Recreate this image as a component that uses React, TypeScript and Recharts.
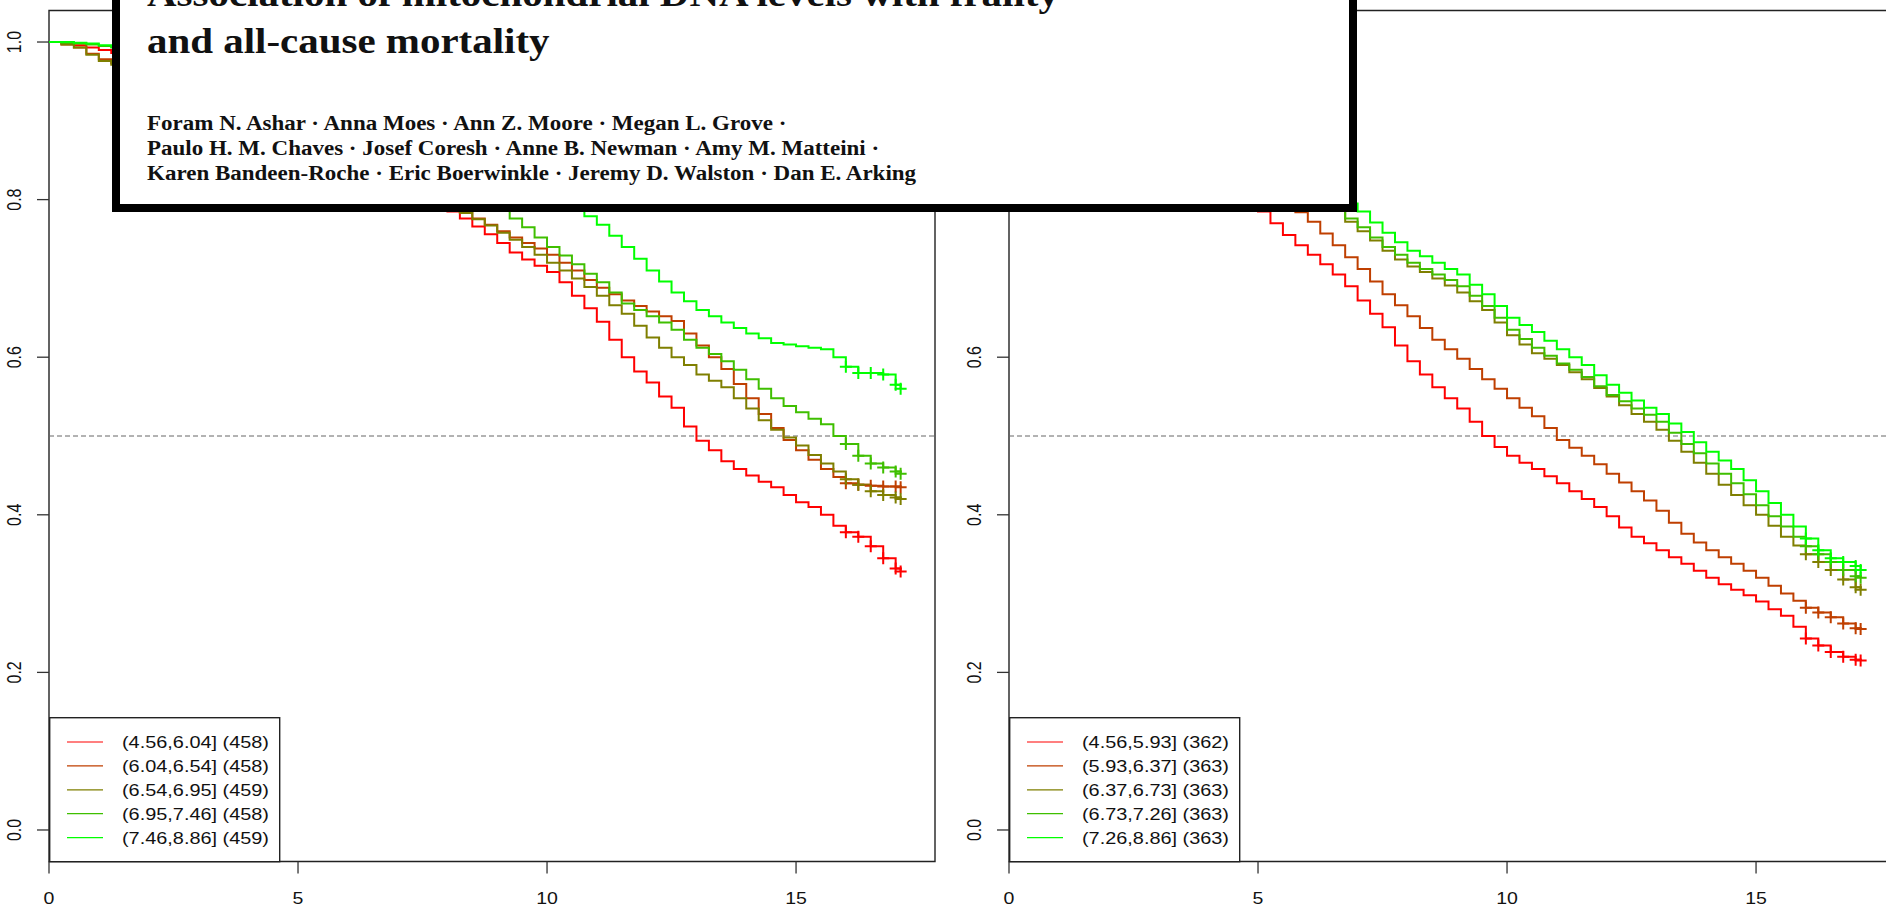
import React from "react";
import { LineChart, Line, XAxis, YAxis, ReferenceLine, ReferenceArea } from "recharts";

const TIMES = [
  0, 0.25, 0.5, 0.75, 1, 1.25, 1.5, 1.75, 2, 2.25, 2.5, 2.75, 3, 3.25, 3.5, 3.75,
  4, 4.25, 4.5, 4.75, 5, 5.25, 5.5, 5.75, 6, 6.25, 6.5, 6.75, 7, 7.25, 7.5, 7.75,
  8, 8.25, 8.5, 8.75, 9, 9.25, 9.5, 9.75, 10, 10.25, 10.5, 10.75, 11, 11.25, 11.5, 11.75,
  12, 12.25, 12.5, 12.75, 13, 13.25, 13.5, 13.75, 14, 14.25, 14.5, 14.75, 15, 15.25, 15.5, 15.75,
  16, 16.25, 16.5, 16.75, 17, 17.1,
];

// Left panel
const L_RED = [
  1.0, .998, .996, .993, .99, .986, .982, .977, .972, .967, .962, .957, .952, .946, .94, .934,
  .927, .92, .913, .906, .898, .89, .882, .874, .866, .857, .848, .838, .828, .818, .808, .796,
  .785, .776, .766, .756, .745, .733, .724, .716, .708, .695, .678, .662, .645, .622, .6, .582,
  .568, .55, .536, .512, .494, .482, .468, .458, .45, .442, .435, .425, .416, .41, .4, .386,
  .378, .372, .36, .345, .332, .328,
];
const L_BROWN = [
  1.0, .997, .993, .985, .978, .973, .968, .963, .958, .953, .948, .943, .937, .931, .925, .918,
  .912, .905, .898, .891, .884, .876, .869, .861, .854, .846, .838, .83, .822, .814, .806, .798,
  .79, .784, .776, .768, .76, .752, .745, .738, .73, .72, .71, .698, .688, .68, .672, .665,
  .658, .652, .646, .63, .615, .6, .585, .566, .548, .528, .51, .495, .482, .47, .458, .448,
  .44, .438, .437, .436, .436, .435,
];
const L_OLIVE = [
  1.0, .997, .993, .984, .976, .971, .966, .961, .956, .951, .946, .94, .935, .929, .923, .917,
  .91, .903, .896, .889, .882, .874, .867, .86, .852, .844, .836, .828, .82, .812, .804, .797,
  .79, .783, .775, .767, .758, .749, .74, .73, .72, .71, .7, .689, .678, .666, .655, .64,
  .625, .612, .6, .59, .578, .57, .562, .548, .535, .52, .508, .498, .488, .476, .465, .455,
  .445, .438, .43, .425, .422, .42,
];
const L_GREEN = [
  1.0, .999, .998, .997, .995, .993, .99, .987, .984, .98, .976, .972, .968, .963, .958, .953,
  .948, .942, .936, .93, .923, .917, .91, .903, .896, .889, .882, .875, .867, .859, .851, .842,
  .832, .821, .81, .799, .788, .776, .765, .752, .74, .729, .718, .706, .695, .682, .668, .66,
  .652, .644, .635, .622, .612, .604, .595, .584, .572, .56, .548, .538, .53, .522, .515, .5,
  .49, .475, .465, .46, .455, .452,
];
const L_LIME = [
  1.0, 1.0, .999, .998, .996, .994, .992, .99, .988, .986, .983, .98, .977, .974, .97, .967,
  .963, .959, .955, .951, .946, .942, .937, .932, .927, .922, .917, .912, .906, .9, .895, .889,
  .883, .877, .87, .863, .855, .847, .838, .827, .815, .802, .79, .779, .768, .754, .74, .725,
  .71, .696, .682, .671, .66, .652, .644, .637, .63, .624, .618, .616, .614, .612, .61, .6,
  .588, .58, .58, .578, .565, .56,
];

// Right panel
const R_RED = [
  1.0, .998, .996, .992, .988, .983, .978, .972, .966, .959, .952, .944, .935, .924, .912, .899,
  .885, .864, .84, .812, .785, .77, .755, .742, .73, .718, .705, .69, .672, .655, .638, .615,
  .595, .578, .562, .548, .535, .518, .5, .486, .475, .466, .458, .449, .44, .43, .42, .41,
  .398, .384, .372, .364, .355, .346, .338, .329, .32, .312, .305, .298, .29, .28, .272, .258,
  .243, .234, .226, .22, .216, .215,
];
const R_BROWN = [
  1.0, .999, .997, .994, .99, .986, .982, .977, .972, .966, .96, .953, .945, .936, .927, .916,
  .905, .89, .875, .855, .835, .815, .795, .784, .772, .757, .742, .727, .712, .696, .68, .666,
  .652, .637, .622, .61, .598, .585, .572, .56, .548, .536, .525, .51, .495, .485, .475, .464,
  .452, .441, .43, .418, .405, .39, .376, .365, .355, .346, .338, .329, .32, .31, .3, .291,
  .282, .276, .27, .262, .256, .255,
];
const R_OLIVE = [
  1.0, .999, .998, .996, .993, .99, .986, .982, .977, .972, .966, .96, .953, .946, .938, .929,
  .92, .91, .9, .889, .878, .866, .855, .842, .83, .81, .788, .772, .76, .748, .735, .724,
  .715, .708, .7, .691, .682, .671, .66, .644, .628, .616, .605, .598, .59, .581, .572, .561,
  .55, .539, .528, .518, .508, .494, .48, .466, .452, .438, .425, .412, .4, .386, .372, .361,
  .35, .34, .33, .318, .308, .305,
];
const R_GREEN = [
  1.0, .999, .998, .996, .994, .991, .988, .984, .98, .975, .97, .964, .958, .951, .944, .936,
  .928, .919, .91, .9, .89, .878, .866, .853, .84, .812, .788, .776, .765, .752, .74, .73,
  .72, .712, .705, .698, .69, .678, .665, .65, .635, .623, .612, .602, .592, .584, .575, .563,
  .552, .544, .535, .527, .518, .504, .49, .478, .465, .452, .44, .426, .412, .398, .385, .372,
  .36, .35, .34, .33, .322, .32,
];
const R_LIME = [
  1.0, 1.0, .999, .998, .996, .994, .991, .988, .984, .98, .976, .971, .966, .96, .954, .947,
  .94, .932, .924, .915, .905, .895, .884, .872, .86, .832, .805, .795, .785, .771, .758, .746,
  .735, .728, .72, .712, .705, .692, .68, .665, .65, .641, .632, .621, .61, .6, .59, .577,
  .565, .555, .545, .536, .528, .516, .505, .492, .48, .469, .458, .444, .43, .415, .4, .385,
  .37, .355, .345, .34, .335, .33,
];

const LEFT_LABELS = ["(4.56,6.04] (458)", "(6.04,6.54] (458)", "(6.54,6.95] (459)", "(6.95,7.46] (458)", "(7.46,8.86] (459)"];
const RIGHT_LABELS = ["(4.56,5.93] (362)", "(5.93,6.37] (363)", "(6.37,6.73] (363)", "(6.73,7.26] (363)", "(7.26,8.86] (363)"];
const COLORS = ["#FF0000", "#BF3F00", "#7F7F00", "#3FBF00", "#00FF00"];

const X_TICKS = [0, 5, 10, 15];
const Y_TICKS = [0, 0.2, 0.4, 0.6, 0.8, 1.0];
const X_DOMAIN = [0, 17.79];
const Y_DOMAIN = [-0.04, 1.04];
const CENSOR_FROM = 16;

const TITLE_LINES = ["Association of mitochondrial DNA levels with frailty", "and all-cause mortality"];
const AUTHOR_LINES = [
  "Foram N. Ashar · Anna Moes · Ann Z. Moore · Megan L. Grove ·",
  "Paulo H. M. Chaves · Josef Coresh · Anne B. Newman · Amy M. Matteini ·",
  "Karen Bandeen-Roche · Eric Boerwinkle · Jeremy D. Walston · Dan E. Arking",
];

const SANS = "'Liberation Sans', Arial, Helvetica, sans-serif";
const SERIF = "'Liberation Serif', 'Times New Roman', serif";
const STRETCH = 1.22;

function buildRows(series: number[][]) {
  return TIMES.map((t, i) => {
    const r: any = { t };
    series.forEach((s, k) => {
      r["s" + k] = s[i];
    });
    return r;
  });
}

const XTick = (props: any) => {
  const { x, y, payload } = props;
  return (
    <text
      transform={`translate(${x},${y + 28}) scale(${STRETCH},1)`}
      textAnchor="middle"
      fontFamily={SANS}
      fontSize={16}
      fill="#111"
    >
      {String(payload.value)}
    </text>
  );
};

const YTick = (props: any) => {
  const { x, y, payload } = props;
  return (
    <text
      transform={`translate(${x - 14},${y}) scale(${STRETCH},1) rotate(-90)`}
      textAnchor="middle"
      fontFamily={SANS}
      fontSize={16}
      fill="#111"
    >
      {Number(payload.value).toFixed(1)}
    </text>
  );
};

const makeDot = (color: string) => (props: any) => {
  const { cx, cy, payload, index } = props;
  if (payload.t < CENSOR_FROM || cx == null || cy == null) return <g key={"d" + index} />;
  return (
    <path
      key={"d" + index}
      d={`M${cx - 6},${cy}H${cx + 6}M${cx},${cy - 6}V${cy + 6}`}
      stroke={color}
      strokeWidth={2}
      fill="none"
    />
  );
};

function Panel({ series, labels, left }: { series: number[][]; labels: string[]; left: number }) {
  const rows = buildRows(series);
  return (
    <div style={{ position: "absolute", left, top: 0, width: 950, height: 906 }}>
      <LineChart width={950} height={906} data={rows} margin={{ top: 10.5, right: 15, bottom: 0, left: 0 }}>
        <XAxis
          dataKey="t"
          type="number"
          domain={X_DOMAIN}
          allowDataOverflow
          ticks={X_TICKS}
          tickSize={12}
          height={44.5}
          axisLine={false}
          tickLine={{ stroke: "#333", strokeWidth: 1.3 }}
          tick={<XTick />}
          interval={0}
        />
        <YAxis
          type="number"
          domain={Y_DOMAIN}
          allowDataOverflow
          ticks={Y_TICKS}
          tickSize={12}
          width={49}
          axisLine={false}
          tickLine={{ stroke: "#333", strokeWidth: 1.3 }}
          tick={<YTick />}
          interval={0}
        />
        <ReferenceLine y={0.5} stroke="#666" strokeDasharray="5 3" strokeWidth={1} />
        {series.map((_, k) => (
          <Line
            key={k}
            type="stepAfter"
            dataKey={"s" + k}
            name={labels[k]}
            stroke={COLORS[k]}
            strokeWidth={2}
            dot={makeDot(COLORS[k])}
            activeDot={false}
            isAnimationActive={false}
          />
        ))}
        <ReferenceArea
          x1={X_DOMAIN[0]}
          x2={X_DOMAIN[1]}
          y1={Y_DOMAIN[0]}
          y2={Y_DOMAIN[1]}
          fill="none"
          fillOpacity={0}
          stroke="#222"
          strokeWidth={1.4}
          ifOverflow="visible"
        />
      </LineChart>
      <svg
        width={232}
        height={146}
        style={{ position: "absolute", left: 48.5, top: 716.5 }}
      >
        <rect x={0.7} y={0.7} width={230} height={144} fill="#fff" stroke="#222" strokeWidth={1.4} />
        {labels.map((lab, i) => {
          const yy = 25 + i * 23.9;
          return (
            <g key={i}>
              <line x1={18} x2={54} y1={yy} y2={yy} stroke={COLORS[i]} strokeWidth={1.2} />
              <text
                transform={`translate(73,${yy + 6}) scale(${STRETCH},1)`}
                fontFamily={SANS}
                fontSize={16.3}
                fill="#111"
              >
                {lab}
              </text>
            </g>
          );
        })}
      </svg>
    </div>
  );
}

export default function App() {
  return (
    <div
      style={{
        position: "absolute",
        left: 0,
        top: 0,
        width: 1886,
        height: 906,
        overflow: "hidden",
        background: "#fff",
      }}
    >
      <Panel series={[L_RED, L_BROWN, L_OLIVE, L_GREEN, L_LIME]} labels={LEFT_LABELS} left={0} />
      <Panel series={[R_RED, R_BROWN, R_OLIVE, R_GREEN, R_LIME]} labels={RIGHT_LABELS} left={960} />
      <svg width={1886} height={906} style={{ position: "absolute", left: 0, top: 0, pointerEvents: "none" }}>
        <rect x={116} y={-60} width={1237} height={268} fill="#fff" stroke="#000" strokeWidth={8} />
        {TITLE_LINES.map((line, i) => (
          <text
            key={i}
            transform={`translate(147,${6 + i * 47}) scale(1.17,1)`}
            fontFamily={SERIF}
            fontWeight="bold"
            fontSize={35}
            fill="#111"
          >
            {line}
          </text>
        ))}
        {AUTHOR_LINES.map((line, i) => (
          <text
            key={i}
            transform={`translate(147,${130 + i * 25}) scale(1.15,1)`}
            fontFamily={SERIF}
            fontWeight="bold"
            fontSize={20}
            fill="#111"
          >
            {line}
          </text>
        ))}
      </svg>
    </div>
  );
}
